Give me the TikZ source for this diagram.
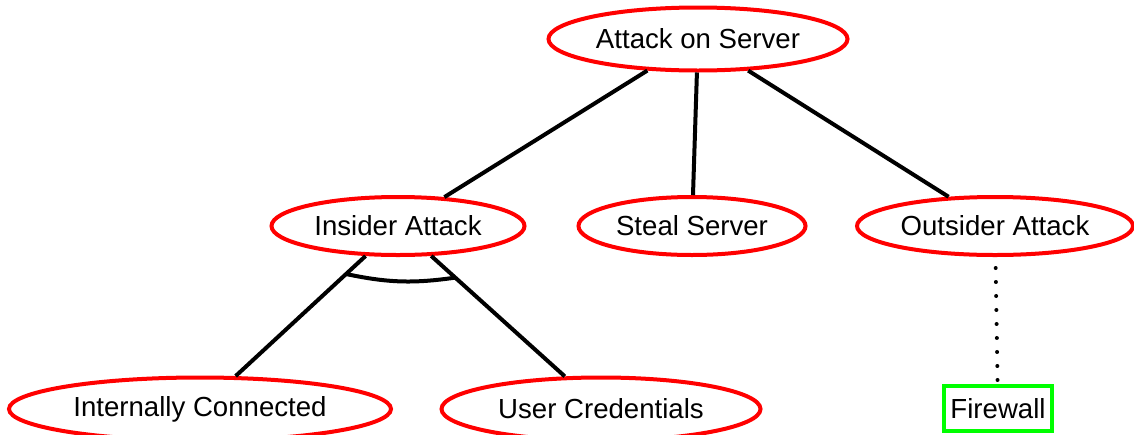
\documentclass[tikz,border=0pt]{standalone}
\usepackage{fontspec}
\setmainfont{Liberation Sans}
\usetikzlibrary{shapes,positioning}
\tikzstyle{goal}    = [ellipse, draw=red, line width=2pt, inner sep=0pt, minimum height=31.5pt, font=\fontsize{13.8}{16}\selectfont]
\tikzstyle{defence} = [rectangle, draw=green, line width=2pt, inner sep=0pt, minimum width=54pt, minimum height=22.5pt, font=\fontsize{13.8}{16}\selectfont]
\tikzstyle{edge}    = [line width=2pt]
\tikzstyle{refines} = [line width=2pt, line cap=round, dash pattern=on 0pt off 7pt, dash phase=1.5pt]

\begin{document}
\begin{tikzpicture}[x=0.5pt, y=-0.5pt]
        \useasboundingbox (0,0) rectangle (1134,434);

        % goals
        \node[goal, minimum width=149.5pt] (server) at (698,39) {Attack on Server};
        \node[goal, minimum width=126.5pt, minimum height=29pt] (insider) at (398,226) {Insider Attack};
        \node[goal, minimum width=113.5pt, minimum height=29pt] (steal) at (692,226) {Steal Server};
        \node[goal, minimum width=138pt, minimum height=29pt] (outsider) at (995,226) {Outsider Attack};
        \node[goal, minimum width=191pt] (internal) at (200,409) {Internally Connected};
        \node[goal, minimum width=159.5pt] (creds) at (601,409) {User Credentials};
        \node[defence] (firewall) at (998,408.5) {Firewall};

        % refinements
        \draw[edge] (server) -- (insider);
        \draw[edge] (server) -- (steal);
        \draw[edge] (server) -- (outsider);
        \draw[edge] (insider) -- coordinate[pos=0.15] (andl) (internal);
        \draw[edge] (insider) -- coordinate[pos=0.18] (andr) (creds);
        \draw[edge] (andl) to[bend right=10] (andr);

        % countermeasure
        \draw[refines] (outsider) -- (firewall);
    \end{tikzpicture}
\end{document}
